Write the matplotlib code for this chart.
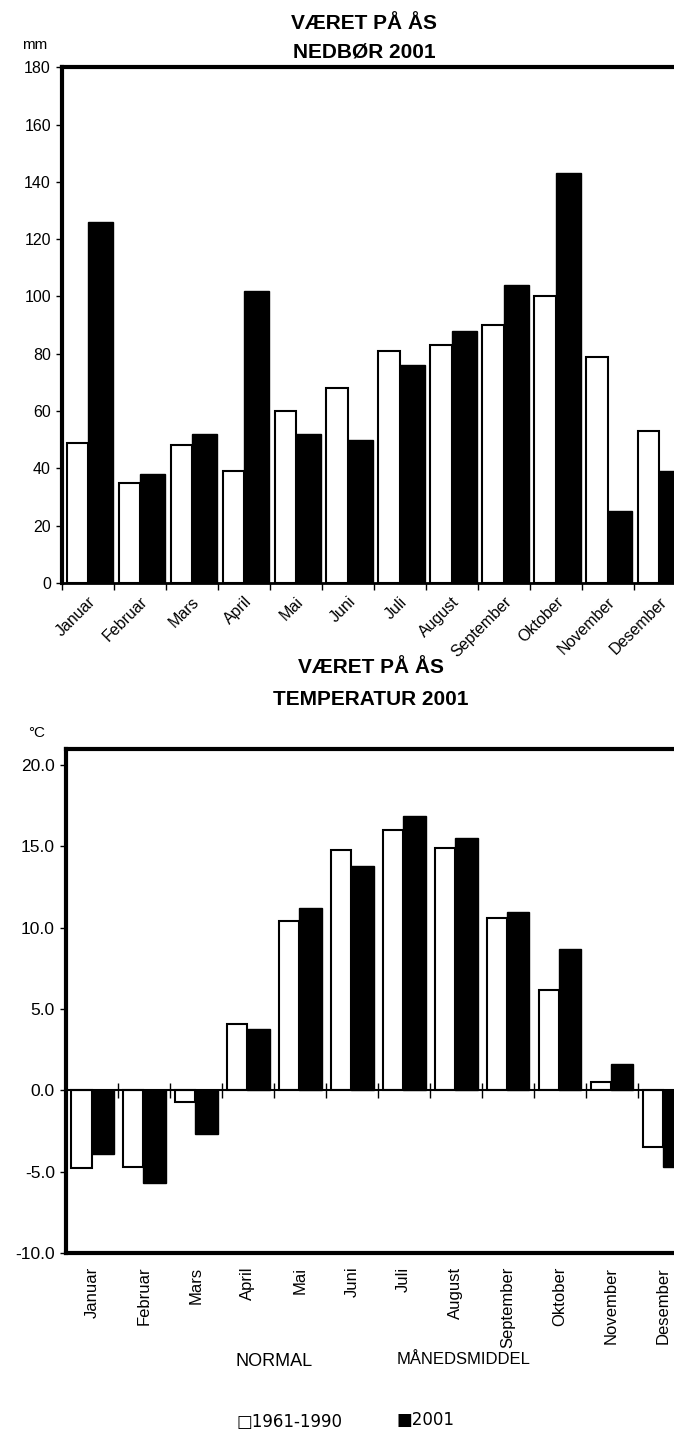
import numpy as np
import matplotlib.pyplot as plt
from matplotlib.ticker import FormatStrFormatter

plt.rcParams['font.family'] = ['Liberation Sans', 'DejaVu Sans']
plt.rcParams['axes.unicode_minus'] = False

months = ["Januar", "Februar", "Mars", "April", "Mai", "Juni", "Juli",
          "August", "September", "Oktober", "November", "Desember"]

# nedbør (mm)
rain_normal = [49, 35, 48, 39, 60, 68, 81, 83, 90, 100, 79, 53]
rain_2001 = [126, 38, 52, 102, 52, 50, 76, 88, 104, 143, 25, 39]

# temperatur (°C)
temp_normal = [-4.8, -4.7, -0.7, 4.1, 10.4, 14.8, 16.0, 14.9, 10.6, 6.2, 0.5, -3.5]
temp_2001 = [-3.9, -5.7, -2.7, 3.8, 11.2, 13.8, 16.9, 15.5, 11.0, 8.7, 1.6, -4.7]

title_font = ['Liberation Sans Narrow', 'Liberation Sans', 'DejaVu Sans']

fig = plt.figure(figsize=(6.74, 14.45), dpi=100)
x = np.arange(12)

# ---- nedbør ----
ax1 = fig.add_axes([0.092, 0.5965, 0.925, 0.357])
ax1.bar(x + 0.09, rain_normal, width=0.41, align='edge', color='white',
        edgecolor='black', linewidth=1.5)
ax1.bar(x + 0.5, rain_2001, width=0.48, align='edge', color='black',
        edgecolor='black', linewidth=1.0)
ax1.set_xlim(0, 12)
ax1.set_ylim(0, 180)
ax1.set_yticks(range(0, 181, 20))
ax1.set_xticks(np.arange(13))
ax1.set_xticklabels([])
ax1.set_xticks(x + 0.5, minor=True)
ax1.set_xticklabels(months, minor=True, rotation=45, ha='right',
                    rotation_mode='anchor', fontsize=11.5)
ax1.tick_params(axis='x', which='major', length=5, width=1, direction='out')
ax1.tick_params(axis='x', which='minor', length=0, pad=8)
ax1.tick_params(axis='y', length=4, width=1, labelsize=11.5, pad=4)
for s in ['left', 'top']:
    ax1.spines[s].set_linewidth(3)
ax1.spines['bottom'].set_linewidth(2)
ax1.spines['right'].set_visible(False)

fig.text(0.54, 0.984, "VÆRET PÅ ÅS", ha='center', va='center', fontsize=15,
         fontweight='bold', family=title_font)
fig.text(0.54, 0.964, "NEDBØR 2001", ha='center', va='center', fontsize=15,
         fontweight='bold', family=title_font)
fig.text(0.033, 0.969, "mm", ha='left', va='center', fontsize=11)

# ---- temperatur ----
ax2 = fig.add_axes([0.098, 0.1329, 0.925, 0.3488])
ax2.bar(x + 0.1, temp_normal, width=0.39, align='edge', color='white',
        edgecolor='black', linewidth=1.5)
ax2.bar(x + 0.49, temp_2001, width=0.43, align='edge', color='black',
        edgecolor='black', linewidth=1.0)
ax2.axhline(0, color='black', linewidth=1.5, zorder=3)
ax2.vlines(np.arange(13), -0.45, 0.45, color='black', linewidth=1, zorder=3)
ax2.set_xlim(0, 12)
ax2.set_ylim(-10, 21)
ax2.set_yticks(np.arange(-10, 21, 5))
ax2.yaxis.set_major_formatter(FormatStrFormatter('%.1f'))
ax2.set_xticks(x + 0.5)
ax2.set_xticklabels(months, rotation=90, fontsize=12)
ax2.tick_params(axis='x', length=0, pad=10)
ax2.tick_params(axis='y', length=4, width=1, labelsize=12.5, pad=4)
for s in ['left', 'top', 'bottom']:
    ax2.spines[s].set_linewidth(3)
ax2.spines['right'].set_visible(False)

fig.text(0.55, 0.5384, "VÆRET PÅ ÅS", ha='center', va='center', fontsize=15,
         fontweight='bold', family=title_font)
fig.text(0.55, 0.5156, "TEMPERATUR 2001", ha='center', va='center', fontsize=15,
         fontweight='bold', family=title_font)
fig.text(0.042, 0.4927, "°C", ha='left', va='center', fontsize=11)

# ---- legend ----
leg_font = ['Liberation Sans Narrow', 'Liberation Sans', 'DejaVu Sans']
fig.text(0.35, 0.058, "NORMAL", ha='left', va='center', fontsize=13, family=leg_font)
fig.text(0.588, 0.059, "MÅNEDSMIDDEL", ha='left', va='center', fontsize=12, family=leg_font)
fig.text(0.351, 0.016, "□1961-1990", ha='left', va='center', fontsize=12,
         family=['DejaVu Sans'])
fig.text(0.588, 0.017, "■2001", ha='left', va='center', fontsize=12,
         family=['DejaVu Sans'])

fig.savefig("out.png", dpi=100)
